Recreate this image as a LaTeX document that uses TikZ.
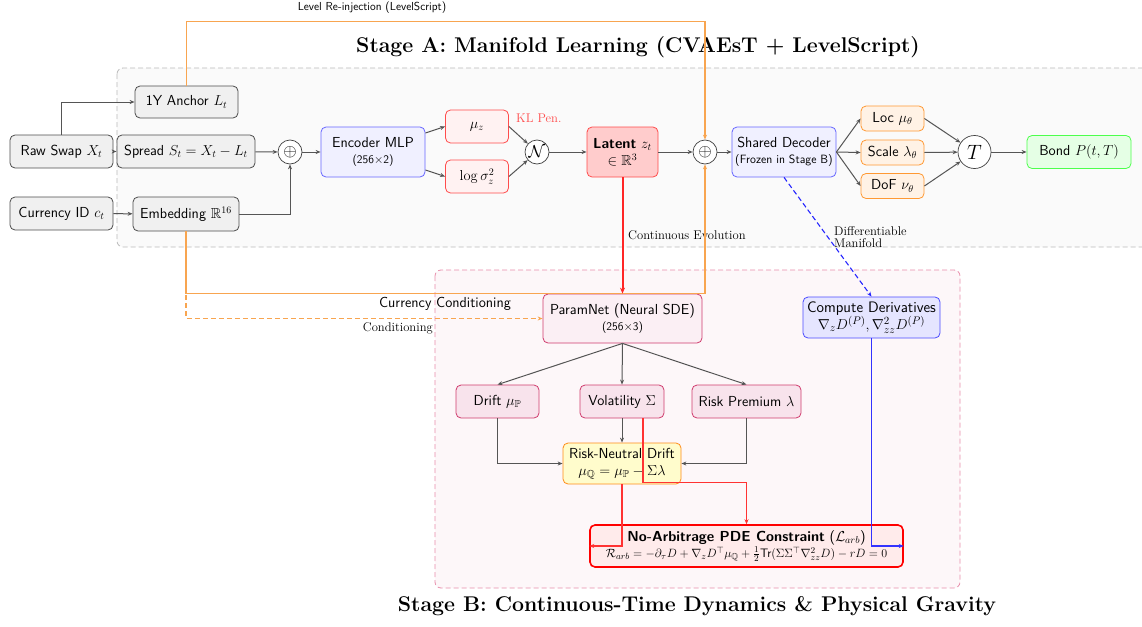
\documentclass[tikz,border=0pt]{standalone}
\usepackage{amsmath,amssymb}
\usetikzlibrary{arrows.meta,calc}
\newcommand\fA{\fontsize{14.5}{17}\selectfont}
\newcommand\fB{\fontsize{11.6}{14}\selectfont}
\newcommand\fS{\fontsize{12.6}{14.5}\selectfont}
\newcommand\fC{\fontsize{12}{14}\selectfont}
\newcommand\fT{\fontsize{21.3}{25}\selectfont}
\definecolor{stAfill}{RGB}{250,250,250}
\definecolor{stAdraw}{RGB}{185,185,185}
\definecolor{stBfill}{RGB}{253,247,249}
\definecolor{stBdraw}{RGB}{232,140,170}
\definecolor{pkdraw}{RGB}{208,60,110}
\definecolor{pkfill}{RGB}{248,227,236}
\definecolor{pkfillL}{RGB}{251,239,244}
\definecolor{orln}{RGB}{248,165,80}
\definecolor{arrgray}{RGB}{85,85,85}
\tikzset{
  base/.style={rounded corners=5pt, line width=0.8pt, font=\sffamily\fA, align=center, inner sep=2pt},
  gbox/.style={base, draw=black!70, fill=black!6},
  bbox/.style={base, draw=blue!60, fill=blue!6},
  rbox/.style={base, draw=red!70, fill=red!5},
  lbox/.style={base, draw=red!70, fill=red!20},
  obox/.style={base, draw=orange!80, fill=orange!10},
  grbox/.style={base, draw=green!70, fill=green!10},
  pbox/.style={base, draw=pkdraw, fill=pkfill},
  ybox/.style={base, draw=orange!90, fill=yellow!20},
  opn/.style={circle, draw=black!75, fill=white, line width=0.7pt, minimum size=24pt, inner sep=0pt, font=\fontsize{17}{19}\selectfont},
  arr/.style={draw=arrgray, line width=1pt, -{Stealth[length=5pt,width=4pt]}},
  redln/.style={draw=red!80, line width=1.1pt, -{Stealth[length=5pt,width=4pt]}},
  blueln/.style={draw=blue!80, line width=1.1pt, -{Stealth[length=5pt,width=4pt]}},
  orl/.style={draw=orln, line width=1.2pt, -{Stealth[length=5pt,width=4pt]}},
  lab/.style={font=\fS, inner sep=1pt},
}
\begin{document}
\begin{tikzpicture}[x=1pt,y=-1pt]
\useasboundingbox (0,0) rectangle (1142,626);
% stage backgrounds
\draw[stAdraw, fill=stAfill, dashed, dash pattern=on 5pt off 3pt, line width=0.8pt, rounded corners=6pt] (117,68) rectangle (1170,247);
\draw[stBdraw, fill=stBfill, dashed, dash pattern=on 5pt off 3pt, line width=0.8pt, rounded corners=6pt] (435,270) rectangle (960,588);
\node[font=\bfseries\fT] (tA) at (638,47) {Stage A: Manifold Learning (CVAEsT + LevelScript)};
\node[font=\bfseries\fT] (tB) at (697,606) {Stage B: Continuous-Time Dynamics \& Physical Gravity};

% Stage A nodes
\node[gbox, minimum width=103pt, minimum height=33pt] (raw) at (61.5,151.5) {Raw Swap $X_t$};
\node[gbox, minimum width=138pt, minimum height=33pt] (spread) at (186,151.5) {Spread $S_t=X_t-L_t$};
\node[gbox, minimum width=103pt, minimum height=32pt] (anchor) at (186.5,102) {1Y Anchor $L_t$};
\node[gbox, minimum width=103pt, minimum height=33pt] (cur) at (61.5,213.5) {Currency ID $c_t$};
\node[gbox, minimum width=106pt, minimum height=34pt] (emb) at (186,214) {Embedding $\mathbb{R}^{16}$};
\node[opn] (op1) at (290,152) {$\oplus$};
\node[bbox, minimum width=104pt, minimum height=50pt] (enc) at (373,152) {Encoder MLP\\[-1pt]{\fB(256$\times$2)}};
\node[rbox, minimum width=63pt, minimum height=33pt] (mu) at (477,126.5) {$\mu_z$};
\node[rbox, minimum width=63pt, minimum height=33pt] (ls) at (477,176.5) {$\log\sigma_z^2$};
\node[opn, font=\fontsize{18.5}{20}\selectfont] (nn) at (537,152) {$\mathcal{N}$};
\node[lab, text=red!70, anchor=west] (kl) at (515,118) {KL Pen.};
\node[lbox, minimum width=71pt, minimum height=50pt] (lat) at (622.5,152) {\textbf{Latent} $z_t$\\$\in\mathbb{R}^3$};
\node[opn] (op2) at (705,152) {$\oplus$};
\node[bbox, minimum width=104pt, minimum height=50pt] (dec) at (784,152) {Shared Decoder\\[-1pt]{\fC(Frozen in Stage B)}};
\node[obox, minimum width=63pt, minimum height=25pt] (loc) at (892.5,118.5) {Loc $\mu_\theta$};
\node[obox, minimum width=63pt, minimum height=25pt] (sca) at (892.5,152.5) {Scale $\lambda_\theta$};
\node[obox, minimum width=63pt, minimum height=25pt] (dof) at (892.5,186) {DoF $\nu_\theta$};
\node[opn, minimum size=33pt, font=\fontsize{22}{24}\selectfont] (tt) at (974.5,152) {$T$};
\node[grbox, minimum width=104pt, minimum height=33pt] (bond) at (1079,152) {Bond $P(t,T)$};

% labels
\node[lab, font=\sffamily\fB] (lvl) at (372,8) {Level Re-injection (LevelScript)};
\node[lab, anchor=west] (ce) at (627,235) {Continuous Evolution};
\node[lab, anchor=west, align=left, font=\fS\linespread{0.85}\selectfont] (dm) at (833,237) {Differentiable\\Manifold};
\node[lab, font=\sffamily\fA] (cc) at (445,304) {Currency Conditioning};
\node[lab, anchor=east] (cond) at (434,328) {Conditioning};

% Stage B nodes
\node[pbox, fill=pkfillL, minimum width=159pt, minimum height=49pt] (param) at (622.5,318.5) {ParamNet (Neural SDE)\\[-1pt]{\fB(256$\times$3)}};
\node[pbox, minimum width=83pt, minimum height=33pt] (drift) at (497.5,401.5) {Drift $\mu_{\mathbb{P}}$};
\node[pbox, minimum width=84pt, minimum height=33pt] (vol) at (622,401.5) {Volatility $\Sigma$};
\node[pbox, minimum width=109pt, minimum height=33pt] (rp) at (746.5,401.5) {Risk Premium $\lambda$};
\node[ybox, minimum width=118pt, minimum height=41pt] (rnd) at (622,463.5) {Risk-Neutral Drift\\$\mu_{\mathbb{Q}}=\mu_{\mathbb{P}}-\Sigma\lambda$};
\node[base, draw=red, fill=red!8, line width=1.6pt, minimum width=313pt, minimum height=42pt] (pde) at (746.5,546) {\textbf{No-Arbitrage PDE Constraint} ($\mathcal{L}_{arb}$)\\[-1pt]{\fontsize{12.3}{14}\selectfont$\mathcal{R}_{arb}=-\partial_\tau D+\nabla_z D^\top\mu_{\mathbb{Q}}+\frac{1}{2}\textsf{Tr}(\Sigma\Sigma^\top\nabla^2_{zz}D)-rD=0$}};
\node[bbox, draw=blue!70, fill=blue!10, minimum width=137pt, minimum height=41pt, font=\sffamily\fontsize{15.2}{17.5}\selectfont] (deriv) at (871.5,317.5) {Compute Derivatives\\$\nabla_z D^{(P)},\nabla^2_{zz}D^{(P)}$};

% Stage A edges
\draw[arr] (raw) -- (spread);
\draw[arr] (raw.north) |- (anchor.west);
\draw[arr] (cur) -- (emb);
\draw[arr] (spread) -- (op1);
\draw[arr] (emb.east) -| (op1.south);
\draw[arr] (op1) -- (enc);
\draw[arr] ([yshift=19pt]enc.east) -- (mu.west);
\draw[arr] ([yshift=-18pt]enc.east) -- (ls.west);
\draw[arr] (mu.east) -- (nn);
\draw[arr] (ls.east) -- (nn);
\draw[arr] (nn) -- (lat);
\draw[arr] (lat) -- (op2);
\draw[arr] (op2) -- (dec);
\draw[arr] (dec.east) -- (loc.west);
\draw[arr] (dec.east) -- (sca.west);
\draw[arr] (dec.east) -- (dof.west);
\draw[arr] (loc.east) -- (tt);
\draw[arr] (sca.east) -- (tt);
\draw[arr] (dof.east) -- (tt);
\draw[arr] (tt) -- (bond);

% orange conditioning lines
\draw[orl] (anchor.north) -- ++(0,-64) -| (op2.north);
\draw[orl] (emb.south) -- ++(0,62) -| (op2.south);
\draw[orl, dashed, dash pattern=on 5pt off 3pt] (emb.south) |- (param.west);

% cross-stage
\draw[draw=red!85, line width=2pt, -{Stealth[length=6pt,width=5pt]}] (lat.south) -- (param.north);
\draw[draw=blue!85, line width=1.1pt, dashed, dash pattern=on 5pt off 3pt, -{Stealth[length=5pt,width=4pt]}] (dec.south) -- (deriv.north);

% Stage B edges
\draw[arr] (param.south) -- (drift.north);
\draw[arr] (param.south) -- (vol.north);
\draw[arr] (param.south) -- (rp.north);
\draw[arr] (drift.south) |- (rnd.west);
\draw[arr] (vol) -- (rnd);
\draw[arr] (rp.south) |- (rnd.east);
\draw[redln] (rnd.south) |- (pde.west);
\draw[redln] ([xshift=21pt]vol.south) -- ++(0,64) -| (pde.north);
\draw[blueln] (deriv.south) |- (pde.east);
\end{tikzpicture}
\end{document}
